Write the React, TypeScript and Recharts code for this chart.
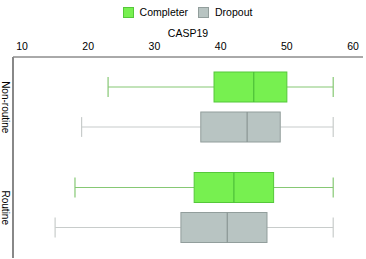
import React from 'react';
import { ComposedChart, Bar, XAxis, YAxis, Legend } from 'recharts';

const categories = ['Non-routine', 'Routine'];
// [min, q1, median, q3, max]
const completerStats = [
  [23, 39, 45, 50, 57],
  [18, 36, 42, 48, 57],
];
const dropoutStats = [
  [19, 37, 44, 49, 57],
  [15, 34, 41, 47, 57],
];
const xTicks = [10, 20, 30, 40, 50, 60];

const data = categories.map((c, i) => ({
  cat: c,
  completer: completerStats[i],
  dropout: dropoutStats[i],
}));

const COLORS = {
  completer: { fill: '#77f050', stroke: '#55c83a', whisker: '#86c874', median: '#4cbf38' },
  dropout: { fill: '#b8c4c2', stroke: '#929e9c', whisker: '#c8cccb', median: '#8a9694' },
};

const FONT = 'Liberation Sans, Arial, sans-serif';

const makeShape = (key: 'completer' | 'dropout') => (props: any) => {
  const { x, y, width, height, payload } = props;
  const s = payload[key] as number[];
  const [mn, q1, md, q3, mx] = s;
  const pos = (v: number) => x + ((v - mn) / (mx - mn)) * width;
  const c = COLORS[key];
  const cy = y + height / 2;
  const cap = height * 0.33;
  return (
    <g>
      <line x1={pos(mn)} x2={pos(q1)} y1={cy} y2={cy} stroke={c.whisker} strokeWidth={1.2} />
      <line x1={pos(q3)} x2={pos(mx)} y1={cy} y2={cy} stroke={c.whisker} strokeWidth={1.2} />
      <line x1={pos(mn)} x2={pos(mn)} y1={cy - cap} y2={cy + cap} stroke={c.whisker} strokeWidth={1.2} />
      <line x1={pos(mx)} x2={pos(mx)} y1={cy - cap} y2={cy + cap} stroke={c.whisker} strokeWidth={1.2} />
      <rect x={pos(q1)} y={y} width={pos(q3) - pos(q1)} height={height} fill={c.fill} stroke={c.stroke} strokeWidth={1} />
      <line x1={pos(md)} x2={pos(md)} y1={y} y2={y + height} stroke={c.median} strokeWidth={1.2} />
    </g>
  );
};

const YTick = (props: any) => {
  const { x, y, payload } = props;
  const tx = x - 8;
  return (
    <g transform={`translate(${tx},${y}) rotate(90)`}>
      <text x={0} y={0} dy="0.35em" textAnchor="middle" fontSize={10} fill="#000" fontFamily={FONT}>
        {payload.value}
      </text>
    </g>
  );
};

const LegendContent = (props: any) => {
  const { payload } = props;
  return (
    <div style={{ display: 'flex', justifyContent: 'center', alignItems: 'center', height: 20, paddingTop: 2, paddingLeft: 12, boxSizing: 'border-box', fontFamily: FONT, fontSize: 10.5 }}>
      {(payload || []).map((p: any, i: number) => (
        <div key={i} style={{ display: 'flex', alignItems: 'center', marginRight: i === 0 ? 10 : 0 }}>
          <span style={{ display: 'inline-block', width: 9, height: 9, background: p.color, border: `1px solid ${p.payload?.stroke || '#999'}`, marginRight: 6 }} />
          <span>{p.value}</span>
        </div>
      ))}
    </div>
  );
};

export default function App() {
  return (
    <div style={{ position: 'fixed', left: 0, top: 0, width: 366, height: 259, background: '#fff' }}>
      <ComposedChart
        width={366}
        height={259}
        data={data}
        layout="vertical"
        margin={{ top: 1, right: 3, bottom: 1, left: 0 }}
        barGap={10}
        barCategoryGap={0}
      >
        <Legend verticalAlign="top" align="center" height={20} content={<LegendContent />} />
        <XAxis
          type="number"
          orientation="top"
          domain={[8.64, 61.5]}
          ticks={xTicks}
          allowDataOverflow
          height={36}
          tickLine={false}
          tickSize={4}
          tickMargin={3}
          axisLine={{ stroke: '#555', strokeWidth: 1 }}
          tick={{ fontSize: 10.5, fill: '#000', fontFamily: FONT }}
          label={{ value: 'CASP19', position: 'insideTop', offset: 9, fontSize: 10.5, fill: '#000', fontFamily: FONT }}
        />
        <YAxis
          type="category"
          dataKey="cat"
          width={13}
          tickLine={false}
          tickSize={0}
          tickMargin={0}
          axisLine={{ stroke: '#888', strokeWidth: 2 }}
          tick={<YTick />}
        />
        <Bar name="Completer" dataKey={(d: any) => [d.completer[0], d.completer[4]]} fill={COLORS.completer.fill} stroke={COLORS.completer.stroke} barSize={30} isAnimationActive={false} shape={makeShape('completer')} />
        <Bar name="Dropout" dataKey={(d: any) => [d.dropout[0], d.dropout[4]]} fill={COLORS.dropout.fill} stroke={COLORS.dropout.stroke} barSize={30} isAnimationActive={false} shape={makeShape('dropout')} />
      </ComposedChart>
    </div>
  );
}
